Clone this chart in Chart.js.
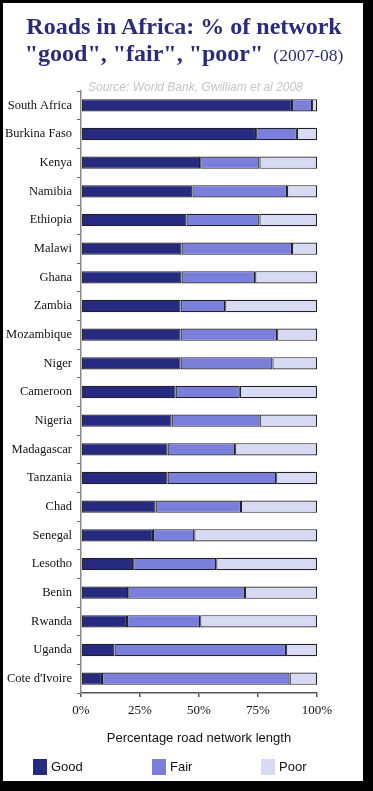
<!DOCTYPE html>
<html>
<head>
<meta charset="utf-8">
<script src="https://cdn.jsdelivr.net/npm/chart.js@4"></script>
<style>
  html, body { margin: 0; padding: 0; background: #000; }
  #page { position: absolute; left: 3px; top: 3px; width: 360px; height: 778px; background: #fff; }
  #wrap { position: absolute; left: 0; top: 0; width: 373px; height: 791px; }
  .title { position: absolute; left: 0; width: 368px; text-align: center; color: #2b2b7e;
           font-family: "Liberation Serif", serif; font-weight: bold; font-size: 24px; white-space: nowrap; }
  .title .yr { font-weight: normal; font-size: 17.5px; margin-left: 10px; }
  #source { position: absolute; left: 88px; top: 80px; font-family: "Liberation Sans", sans-serif;
            font-style: italic; font-size: 12px; color: #c4c4c4; white-space: nowrap; }
  #legend { position: absolute; top: 759px; left: 0; font-family: "Liberation Sans", sans-serif; font-size: 13px; color: #111; }
  #legend span.item { position: absolute; white-space: nowrap; line-height: 16px; }
  #legend span.box { display: inline-block; width: 14px; height: 16px; vertical-align: top; margin-right: 4px; }
</style>
</head>
<body>
<div id="page"></div>
<div id="wrap"><canvas id="chart" width="373" height="791"></canvas></div>
<div class="title" style="top:13px">Roads in Africa: % of network</div>
<div class="title" style="top:40px">"good", "fair", "poor"<span class="yr">(2007-08)</span></div>
<div id="source">Source: World Bank, Gwilliam et al 2008</div>
<div id="legend"></div>
<script>
const countries = ['South Africa', 'Burkina Faso', 'Kenya', 'Namibia', 'Ethiopia', 'Malawi', 'Ghana',
  'Zambia', 'Mozambique', 'Niger', 'Cameroon', 'Nigeria', 'Madagascar', 'Tanzania', 'Chad',
  'Senegal', 'Lesotho', 'Benin', 'Rwanda', 'Uganda', "Cote d'Ivoire"];
const good = [89.4, 74.2, 50.5, 47.2, 44.7, 42.6, 42.6, 42.2, 42.2, 42.2, 40.1, 38.4, 36.7, 36.7, 31.6, 30.5, 22.1, 20.0, 19.5, 14.2, 8.9];
const fair = [8.5, 17.3, 25.1, 40.1, 30.9, 46.8, 31.2, 18.9, 40.9, 38.9, 27.2, 37.3, 28.6, 46.0, 36.2, 17.5, 35.2, 49.5, 31.0, 72.7, 79.5];
const poor = [2.1, 8.5, 24.4, 12.7, 24.4, 10.6, 26.2, 38.9, 16.9, 18.9, 32.7, 24.3, 34.7, 17.3, 32.2, 52.0, 42.7, 30.5, 49.5, 13.1, 11.6];
const xTicks = [0, 25, 50, 75, 100];
const seriesNames = ['Good', 'Fair', 'Poor'];
const seriesColors = ['#262a80', '#7a7fdc', '#d8d9f3'];
const legendX = [33, 152, 261];

const serif = 'Liberation Serif';

new Chart(document.getElementById('chart'), {
  type: 'bar',
  data: {
    labels: countries,
    datasets: [good, fair, poor].map((d, i) => ({
      label: seriesNames[i],
      data: d,
      backgroundColor: seriesColors[i],
      borderColor: '#222',
      borderWidth: 1.2,
      borderSkipped: false,
      barPercentage: 0.43,
      categoryPercentage: 1
    }))
  },
  options: {
    indexAxis: 'y',
    responsive: false,
    animation: false,
    layout: { padding: { left: 3, right: 56, top: 91, bottom: 41 } },
    plugins: { legend: { display: false }, tooltip: { enabled: false } },
    scales: {
      x: {
        stacked: true, min: 0, max: 100,
        afterBuildTicks: s => { s.ticks = xTicks.map(v => ({ value: v })); },
        afterFit: s => { s.height = 57; },
        ticks: { callback: v => v + '%', padding: 6, color: '#111', font: { family: serif, size: 13 }, maxRotation: 0 },
        grid: { drawOnChartArea: false, drawTicks: true, tickLength: 4, color: '#555', lineWidth: 1.5 },
        border: { display: true, color: '#555', width: 1.5 },
        title: { display: true, text: 'Percentage road network length', color: '#111',
                 font: { family: 'Liberation Sans', size: 13 }, padding: { top: 4, bottom: 4 } }
      },
      y: {
        stacked: true,
        afterFit: s => { s.width = 78; },
        ticks: { padding: 5, color: '#111', font: { family: serif, size: 12.5 } },
        grid: { drawOnChartArea: false, drawTicks: true, tickLength: 4, offset: true, color: '#666', lineWidth: 1 },
        border: { display: true, color: '#8a8a8a', width: 1.5 }
      }
    }
  }
});

const legend = document.getElementById('legend');
seriesNames.forEach((name, i) => {
  const item = document.createElement('span');
  item.className = 'item';
  item.style.left = legendX[i] + 'px';
  item.innerHTML = '<span class="box" style="background:' + seriesColors[i] + '"></span>' + name;
  legend.appendChild(item);
});
</script>
</body>
</html>
